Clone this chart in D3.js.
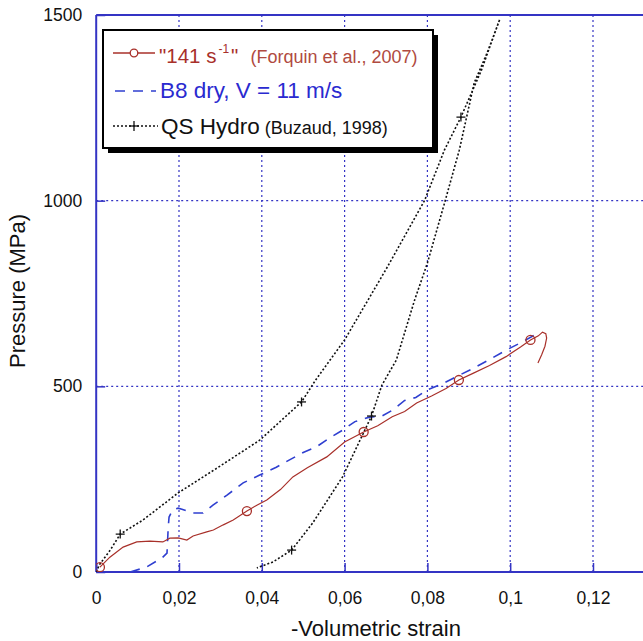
<!DOCTYPE html>
<html><head><meta charset="utf-8">
<script src="https://cdn.jsdelivr.net/npm/d3@7"></script>
<style>
html,body{margin:0;padding:0;background:#fff;}
svg{display:block;font-family:"Liberation Sans",Arial,sans-serif;}
</style></head>
<body>
<svg id="chart" width="643" height="641"></svg>
<script>
// ---- data ----
const xTicks = [0, 0.02, 0.04, 0.06, 0.08, 0.1, 0.12];
const yTicks = [0, 500, 1000, 1500];

// Forquin et al. 2007, "141 s-1" (strain, pressure MPa)
const forquinStrain = [0.0009,0.0033,0.0065,0.0098,0.013,0.0161,0.0178,0.0198,0.0219,0.0234,0.0267,0.0283,0.0307,0.0331,0.0364,0.0388,0.0412,0.0445,0.0475,0.051,0.0557,0.06,0.0646,0.068,0.0715,0.0745,0.0774,0.081,0.0845,0.0876,0.091,0.095,0.099,0.1025,0.1049,0.1068,0.1078,0.1086,0.1088,0.1084,0.1076,0.1067];
const forquinP      = [13,40,67,81,83,81,91,92,86,97,108,113,127,140,164,180,194,222,256,281,310,350,377,394,418,432,455,474,494,517,535,556,580,606,625,636,646,642,630,608,585,563];
const forquinMarkers = [0, 14, 22, 29, 34];

// B8 dry, V = 11 m/s
const b8Strain = [0.0082,0.0106,0.0118,0.0159,0.0171,0.0174,0.0176,0.0185,0.0198,0.0207,0.0234,0.0258,0.0282,0.0316,0.0355,0.0395,0.0435,0.0467,0.05,0.0532,0.0565,0.0595,0.0625,0.066,0.069,0.0716,0.0745,0.0772,0.0799,0.0835,0.0877,0.091,0.095,0.0991,0.103,0.1071];
const b8P      = [0,8,11,38,51,121,148,168,172,169,159,159,180,207,240,261,282,302,322,337,362,382,405,417,420,436,462,470,490,506,530,548,572,598,620,646];

// QS Hydro (Buzaud, 1998)
const qsStrain = [0,0.0008,0.0034,0.0058,0.0113,0.0198,0.0292,0.0395,0.0496,0.053,0.06,0.07,0.0793,0.0841,0.0881,0.093,0.0975,0.0945,0.0913,0.0877,0.0843,0.08,0.0769,0.0725,0.069,0.0665,0.0595,0.0523,0.0472,0.0427,0.0388];
const qsP      = [0,20,59,102,140,213,280,355,458,517,625,815,1000,1136,1225,1350,1489,1400,1317,1136,1000,832,732,571,503,420,256,132,59,27,11];
const qsMarkers = [3, 8, 14, 25, 28];

// ---- layout ----
const svg = d3.select("#chart");
const x = d3.scaleLinear().domain([0, 0.14]).range([96.2, 675.8]);
const y = d3.scaleLinear().domain([0, 1500]).range([572, 15]);
const blue = "#3434c4";
const red = "#a8302a";
const bdash = "#2f3fd0";

svg.append("clipPath").attr("id","clip").append("rect")
  .attr("x", x(0)).attr("y", y(1500)).attr("width", 643 - x(0)).attr("height", y(0) - y(1500));

// grid
const grid = svg.append("g");
grid.selectAll("line.vg").data(xTicks.filter(d => d > 0)).join("line")
  .attr("x1", d => x(d)).attr("x2", d => x(d)).attr("y1", y(0)).attr("y2", y(1500))
  .attr("stroke", blue).attr("stroke-width", 1.2).attr("stroke-dasharray", "2,3");
grid.selectAll("line.hg").data(yTicks.filter(d => d > 0 && d < 1500)).join("line")
  .attr("x1", x(0)).attr("x2", 643).attr("y1", d => y(d)).attr("y2", d => y(d))
  .attr("stroke", blue).attr("stroke-width", 1.2).attr("stroke-dasharray", "2,3");

// frame
svg.append("line").attr("x1", x(0)).attr("x2", 643).attr("y1", y(1500)).attr("y2", y(1500)).attr("stroke", blue).attr("stroke-width", 2);
svg.append("line").attr("x1", x(0)).attr("x2", 643).attr("y1", y(0)).attr("y2", y(0)).attr("stroke", blue).attr("stroke-width", 2);
svg.append("line").attr("x1", x(0)).attr("x2", x(0)).attr("y1", y(0)).attr("y2", y(1500)).attr("stroke", blue).attr("stroke-width", 2);

// axes via d3 axes (inner solid tick marks + labels)
const fmt = d => d === 0 ? "0" : String(d).replace(".", ",");
const xa = svg.append("g").attr("transform", `translate(0,${y(0)})`)
  .call(d3.axisBottom(x).tickValues(xTicks).tickFormat(fmt).tickSizeInner(-9).tickSizeOuter(0).tickPadding(20));
const ya = svg.append("g").attr("transform", `translate(${x(0)},0)`)
  .call(d3.axisLeft(y).tickValues(yTicks).tickFormat(d3.format("d")).tickSizeInner(-9).tickSizeOuter(0).tickPadding(14));
[xa, ya].forEach(a => {
  a.select(".domain").remove();
  a.selectAll(".tick line").attr("stroke", blue).attr("stroke-width", 1.5);
  a.selectAll("text").attr("font-size", 17.5).attr("fill", "#111")
    .attr("font-family", "'Liberation Sans', Arial, sans-serif");
});

svg.append("text").attr("x", 376).attr("y", 636).attr("text-anchor", "middle")
  .attr("font-size", 22).attr("fill", "#111").text("-Volumetric strain");
svg.append("text").attr("transform", "translate(25,291) rotate(-90)").attr("text-anchor", "middle")
  .attr("font-size", 22).attr("fill", "#111").text("Pressure (MPa)");

// series
const plot = svg.append("g").attr("clip-path", "url(#clip)");
const line = d3.line().x(d => x(d[0])).y(d => y(d[1]));
const qs = qsStrain.map((s, i) => [s, qsP[i]]);
const b8 = b8Strain.map((s, i) => [s, b8P[i]]);
const fq = forquinStrain.map((s, i) => [s, forquinP[i]]);

plot.append("path").datum(qs).attr("d", line).attr("fill", "none")
  .attr("stroke", "#111").attr("stroke-width", 1.6).attr("stroke-dasharray", "2,2");
plot.append("path").datum(b8).attr("d", line).attr("fill", "none")
  .attr("stroke", bdash).attr("stroke-width", 1.6).attr("stroke-dasharray", "10,8");
plot.append("path").datum(fq).attr("d", line).attr("fill", "none")
  .attr("stroke", red).attr("stroke-width", 1.2);

plot.selectAll("circle.fm").data(forquinMarkers.map(i => fq[i])).join("circle")
  .attr("cx", d => x(d[0])).attr("cy", d => y(d[1])).attr("r", 4.5)
  .attr("fill", "none").attr("stroke", red).attr("stroke-width", 1.3);
const plus = (g, cx, cy, s) => {
  g.append("line").attr("x1", cx - s).attr("x2", cx + s).attr("y1", cy).attr("y2", cy).attr("stroke", "#111").attr("stroke-width", 1.3);
  g.append("line").attr("x1", cx).attr("x2", cx).attr("y1", cy - s).attr("y2", cy + s).attr("stroke", "#111").attr("stroke-width", 1.3);
};
qsMarkers.forEach(i => plus(plot, x(qs[i][0]), y(qs[i][1]), 4.5));

// legend
const lg = svg.append("g");
lg.append("rect").attr("x", 108).attr("y", 35).attr("width", 330).attr("height", 118).attr("fill", "#000");
lg.append("rect").attr("x", 103).attr("y", 30).attr("width", 330).attr("height", 118)
  .attr("fill", "#fff").attr("stroke", "#000").attr("stroke-width", 2);

// item 1
lg.append("line").attr("x1", 113).attr("x2", 155).attr("y1", 53).attr("y2", 53).attr("stroke", red).attr("stroke-width", 1.3);
lg.append("circle").attr("cx", 134).attr("cy", 53).attr("r", 3.8).attr("fill", "#fff").attr("stroke", red).attr("stroke-width", 1.3);
const t1 = lg.append("text").attr("x", 159).attr("y", 63).attr("fill", red);
t1.append("tspan").attr("font-size", 20.5).text("\"141 s");
t1.append("tspan").attr("font-size", 12).attr("dx", 2).attr("dy", -10).text("-1");
t1.append("tspan").attr("font-size", 20.5).attr("dx", 2).attr("dy", 10).text("\"");
t1.append("tspan").attr("font-size", 18).attr("dx", 12).attr("fill", "#b04a40").text("(Forquin et al., 2007)");

// item 2
lg.append("line").attr("x1", 115).attr("x2", 156).attr("y1", 91).attr("y2", 91).attr("stroke", bdash)
  .attr("stroke-width", 1.6).attr("stroke-dasharray", "10,8");
lg.append("text").attr("x", 160).attr("y", 98).attr("fill", "#2a2ad0").attr("font-size", 22.5).text("B8 dry, V = 11 m/s");

// item 3
lg.append("line").attr("x1", 113).attr("x2", 158).attr("y1", 126).attr("y2", 126).attr("stroke", "#111")
  .attr("stroke-width", 1.4).attr("stroke-dasharray", "2,2");
plus(lg, 134, 126, 5);
const t3 = lg.append("text").attr("x", 161).attr("y", 134).attr("fill", "#111");
t3.append("tspan").attr("font-size", 22.5).text("QS Hydro");
t3.append("tspan").attr("font-size", 18).attr("dx", 5).text("(Buzaud, 1998)");
</script>
</body></html>
